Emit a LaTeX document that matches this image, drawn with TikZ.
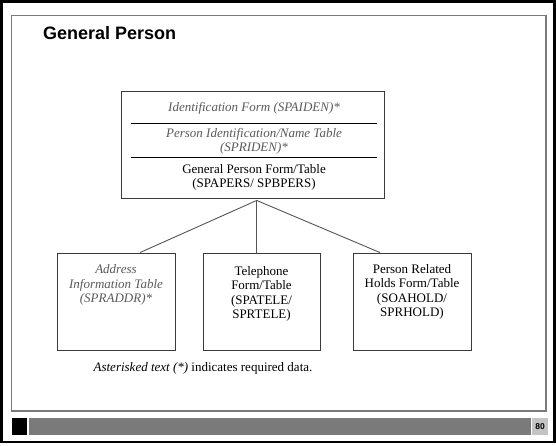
\documentclass[tikz,border=0pt]{standalone}
\usepackage{fontspec}
\setmainfont{Liberation Serif}
\newfontfamily\arialfont{Liberation Sans}
\usetikzlibrary{calc}
\definecolor{itgray}{HTML}{5A5A5A}
\definecolor{boxline}{HTML}{3A3A3A}
\definecolor{conline}{HTML}{555555}
\definecolor{bargray}{HTML}{7A7A7A}
\definecolor{pagegray}{HTML}{C4C4C4}
\definecolor{framegray}{HTML}{7A7A7A}
\tikzset{
  boxnode/.style={draw=boxline, line width=0.9pt, inner sep=0pt},
  txt/.style={inner sep=0pt, align=center, font=\fontsize{13}{14.5}\selectfont},
  ittxt/.style={txt, text=itgray, font=\fontsize{13}{14.5}\selectfont\itshape},
  conn/.style={draw=conline, line width=0.9pt},
  sepline/.style={draw=black, line width=0.9pt}
}
\begin{document}
\begin{tikzpicture}[x=1pt,y=-1pt]
\useasboundingbox (0,0) rectangle (556,445);
\fill[white] (0,0) rectangle (556,445);
% outer frame
\draw[black, line width=2.6pt] (1.6,1.6) rectangle (554.4,441.8);
% inner frame
\draw[framegray, line width=1.2pt] (11.5,15.5) rectangle (546,411);
% footer bar
\fill[black] (12,418) rectangle (27,434.5);
\fill[bargray] (28.5,418) rectangle (531,434.5);
\fill[pagegray] (532,418) rectangle (548,434.5);
\node[inner sep=0pt, font=\arialfont\bfseries\fontsize{8.5}{9}\selectfont] (pg) at (540,426.5) {80};
% title
\node[anchor=base west, inner sep=0pt, font=\arialfont\bfseries\fontsize{18}{20}\selectfont] (title) at (43,39.5) {General Person};
% top box
\node[boxnode, minimum width=263pt, minimum height=107pt] (top) at (252.5,144.5) {};
\draw[sepline] ($(top.north west)+(10,33.3)$) coordinate (s1a) -- ($(top.north east)+(-7,33.3)$) coordinate (s1b);
\draw[sepline] ($(top.north west)+(10,66.7)$) coordinate (s2a) -- ($(top.north east)+(-7,66.7)$) coordinate (s2b);
\node[ittxt] (t1) at (254,108) {Identification Form (SPAIDEN)*};
\node[ittxt] (t2) at (254,141.5) {Person Identification/Name Table\\(SPRIDEN)*};
\node[txt] (t3) at (254,177.5) {General Person Form/Table\\(SPAPERS/ SPBPERS)};
% child boxes
\node[boxnode, minimum width=118pt, minimum height=97pt] (addr) at (116,301.5) {};
\node[boxnode, minimum width=117pt, minimum height=97pt] (tele) at (261.5,301.5) {};
\node[boxnode, minimum width=118pt, minimum height=97pt] (hold) at (412,301.5) {};
\node[ittxt] (addrt) at (116,285) {Address\\Information Table\\(SPRADDR)*};
\node[txt] (telet) at (261.5,294) {Telephone\\Form/Table\\(SPATELE/\\SPRTELE)};
\node[txt] (holdt) at (412,292) {Person Related\\Holds Form/Table\\(SOAHOLD/\\SPRHOLD)};
% connectors
\coordinate (apex) at ($(top.south)+(4.2,2)$);
\coordinate (addrin) at ($(addr.north)+(24,0)$);
\coordinate (telein) at (apex |- tele.north);
\coordinate (holdin) at ($(hold.north)+(-32,0)$);
\draw[conn] (apex) -- (addrin);
\draw[conn] (apex) -- (telein);
\draw[conn] (apex) -- (holdin);
% footnote
\node[txt] (note) at (203,368) {\textit{Asterisked text (*)} indicates required data.};
\end{tikzpicture}
\end{document}
